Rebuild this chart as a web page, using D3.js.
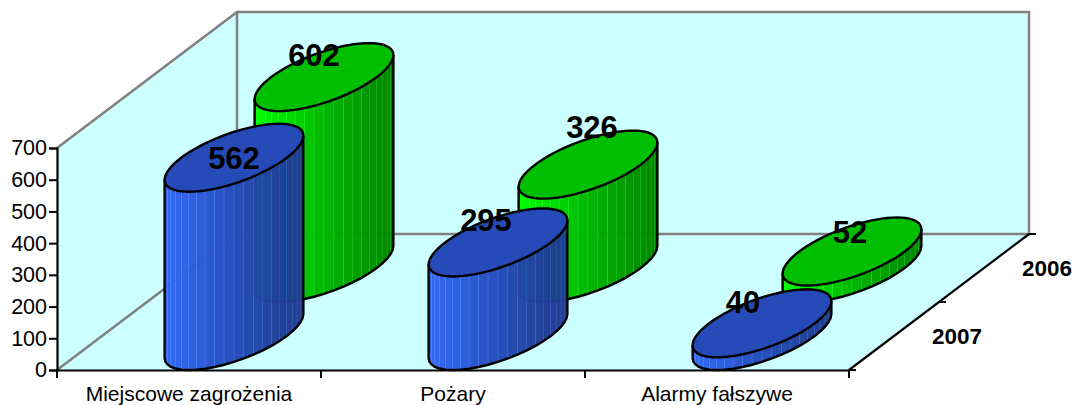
<!DOCTYPE html>
<html>
<head>
<meta charset="utf-8">
<script src="https://cdn.jsdelivr.net/npm/d3@7"></script>
<style>
  html, body { margin: 0; padding: 0; background: #fff; overflow: hidden; }
  svg { display: block; }
  text { font-family: "Liberation Sans", Arial, sans-serif; fill: #000; }
</style>
</head>
<body>
<div id="chart"></div>
<script>
const categories = ["Miejscowe zagrożenia", "Pożary", "Alarmy fałszywe"];
const seriesNames = ["2007", "2006"]; // front row first
const values2007 = [562, 295, 40];
const values2006 = [602, 326, 52];
const yTicks = [0, 100, 200, 300, 400, 500, 600, 700];

const width = 1074;
const height = 405;

const svg = d3.select("#chart").append("svg").attr("width", width).attr("height", height);

const x = d3.scaleBand().domain(categories).range([57, 849]);
const y = d3.scaleLinear().domain([0, 700]).range([370, 148]);
const depth = d3.scaleBand().domain(seriesNames).range([0, 1]);

const depthX = 180;
const depthY = 136;

const project = (px, d, value) => [px + d * depthX, y(value) - d * depthY];

// walls
const wallFill = "#ccffff";
const wallLine = "#808080";
const [x0, x1] = x.range();
const walls = svg.append("g");
walls.append("polygon")
  .attr("points", [project(x0, 0, 700), project(x0, 1, 700), project(x0, 1, 0), project(x0, 0, 0)].join(" "))
  .attr("fill", wallFill);
walls.append("polygon")
  .attr("points", [project(x0, 1, 700), project(x1, 1, 700), project(x1, 1, 0), project(x0, 1, 0)].join(" "))
  .attr("fill", wallFill);
walls.append("polygon")
  .attr("points", [project(x0, 0, 0), project(x0, 1, 0), project(x1, 1, 0), project(x1, 0, 0)].join(" "))
  .attr("fill", wallFill);
walls.append("path")
  .attr("d", d3.line()([project(x0, 0, 700), project(x0, 1, 700), project(x1, 1, 700), project(x1, 1, 0), project(x0, 1, 0), project(x0, 0, 0)]))
  .attr("fill", "none").attr("stroke", wallLine).attr("stroke-width", 2.5);
walls.append("line")
  .attr("x1", project(x0, 1, 700)[0]).attr("y1", project(x0, 1, 700)[1])
  .attr("x2", project(x0, 1, 0)[0]).attr("y2", project(x0, 1, 0)[1])
  .attr("stroke", wallLine).attr("stroke-width", 2.5);

// cylinders
const radiusX = x.bandwidth() * 0.2;
const radiusD = depth.bandwidth() / 2;
const skewX = radiusD * depthX;
const skewY = radiusD * depthY;
const t0 = Math.atan2(skewX, radiusX);
const nStrips = 22;

const ringPoint = (cx, cy, t) => [
  cx + radiusX * Math.cos(t) + skewX * Math.sin(t),
  cy - skewY * Math.sin(t),
];
const frontAngles = d3.range(nStrips + 1).map((i) => t0 + Math.PI + (Math.PI * i) / nStrips);
const line = d3.line();

const palettes = {
  "2007": { side: ["#3468f8", "#264cb8", "#1e3a88"], top: "#264bb8" },
  "2006": { side: ["#00ff00", "#00b400", "#008000"], top: "#00bf00" },
};
const rows = [
  { name: "2006", values: values2006 },
  { name: "2007", values: values2007 },
];

// nudges of the value labels from the centre of each cap, row by row
const labelNudge = {
  "2007": [[0, 0], [-12, -22], [-19, -21]],
  "2006": [[-10, -22], [4, -38], [-2, -20]],
};

const labelData = [];
rows.forEach((row) => {
  const dMid = depth(row.name) + depth.bandwidth() / 2;
  const shade = d3.scaleLinear().domain([0, 0.5, 1]).range(palettes[row.name].side);
  row.values.forEach((v, i) => {
    const px = x(categories[i]) + x.bandwidth() / 2;
    const [cx, cyBase] = project(px, dMid, 0);
    const [, cyTop] = project(px, dMid, v);
    const g = svg.append("g");

    const strips = d3.range(nStrips).map((k) => ({ a: frontAngles[k], b: frontAngles[k + 1] }));
    g.selectAll("path.strip")
      .data(strips)
      .join("path")
      .attr("class", "strip")
      .attr("d", (s) => line([
        ringPoint(cx, cyTop, s.a), ringPoint(cx, cyTop, s.b),
        ringPoint(cx, cyBase, s.b), ringPoint(cx, cyBase, s.a),
      ]) + "Z")
      .attr("fill", (s) => shade((ringPoint(cx, 0, (s.a + s.b) / 2)[0] - cx + 69.5) / 139))
      .attr("fill-opacity", 0.985)
      .attr("stroke", (s, k) => d3.color(shade((ringPoint(cx, 0, s.a)[0] - cx + 69.5) / 139)).brighter(k % 2 ? 1.1 : 0.5))
      .attr("stroke-opacity", 0.6)
      .attr("stroke-width", 0.8);

    // outline of the side
    const lower = frontAngles.map((t) => ringPoint(cx, cyBase, t));
    g.append("path")
      .attr("d", line([ringPoint(cx, cyTop, frontAngles[0]), ...lower, ringPoint(cx, cyTop, frontAngles[nStrips])]))
      .attr("fill", "none").attr("stroke", "#000").attr("stroke-width", 2.4);

    // cap
    g.append("path")
      .attr("d", line(d3.range(73).map((k) => ringPoint(cx, cyTop, (k * Math.PI) / 36))) + "Z")
      .attr("fill", palettes[row.name].top)
      .attr("stroke", "#000").attr("stroke-width", 2.4);

    labelData.push({ text: v, x: cx + labelNudge[row.name][i][0], y: cyTop + labelNudge[row.name][i][1] });
  });
});

// axes
const axisG = svg.append("g");
const yAxis = axisG.append("g")
  .attr("transform", `translate(${x0},0)`)
  .call(d3.axisLeft(y).tickValues(yTicks).tickSize(8).tickPadding(2));
yAxis.selectAll("text").attr("font-size", 21.5).attr("font-family", null);

const xAxis = axisG.append("g")
  .attr("transform", `translate(0,${y(0)})`)
  .call(d3.axisBottom(x).tickSize(0).tickPadding(16));
xAxis.selectAll("text").attr("font-size", 21).attr("font-family", null);

axisG.selectAll(".domain").attr("stroke", "#000").attr("stroke-width", 2.2);
axisG.selectAll(".tick line").attr("stroke", "#000").attr("stroke-width", 2);

// tick marks between the categories
axisG.selectAll(".xtick")
  .data(categories.map((c) => x(c)).concat(x1))
  .join("line")
  .attr("class", "xtick")
  .attr("x1", (d) => d).attr("x2", (d) => d)
  .attr("y1", y(0)).attr("y2", y(0) + 8)
  .attr("stroke", "#000").attr("stroke-width", 2);

// depth axis
axisG.append("line")
  .attr("x1", project(x1, 0, 0)[0]).attr("y1", project(x1, 0, 0)[1])
  .attr("x2", project(x1, 1, 0)[0]).attr("y2", project(x1, 1, 0)[1])
  .attr("stroke", "#000").attr("stroke-width", 2.2);
axisG.selectAll(".dtick")
  .data([0, depth.bandwidth(), 1])
  .join("line")
  .attr("class", "dtick")
  .attr("x1", (d) => project(x1, d, 0)[0]).attr("x2", (d) => project(x1, d, 0)[0] + 7)
  .attr("y1", (d) => project(x1, d, 0)[1]).attr("y2", (d) => project(x1, d, 0)[1])
  .attr("stroke", "#000").attr("stroke-width", 2);
axisG.selectAll(".dlabel")
  .data(seriesNames)
  .join("text")
  .attr("class", "dlabel")
  .attr("x", (d) => project(x1, depth(d) + depth.bandwidth() / 2, 0)[0] + 63)
  .attr("y", (d) => project(x1, depth(d) + depth.bandwidth() / 2, 0)[1] + 8)
  .attr("text-anchor", "middle")
  .attr("font-size", 22.5)
  .attr("font-weight", "bold")
  .text((d) => d);

// value labels
svg.append("g").selectAll("text")
  .data(labelData)
  .join("text")
  .attr("x", (d) => d.x)
  .attr("y", (d) => d.y + 11)
  .attr("text-anchor", "middle")
  .attr("font-size", 31)
  .attr("font-weight", "bold")
  .text((d) => d.text);
</script>
</body>
</html>
